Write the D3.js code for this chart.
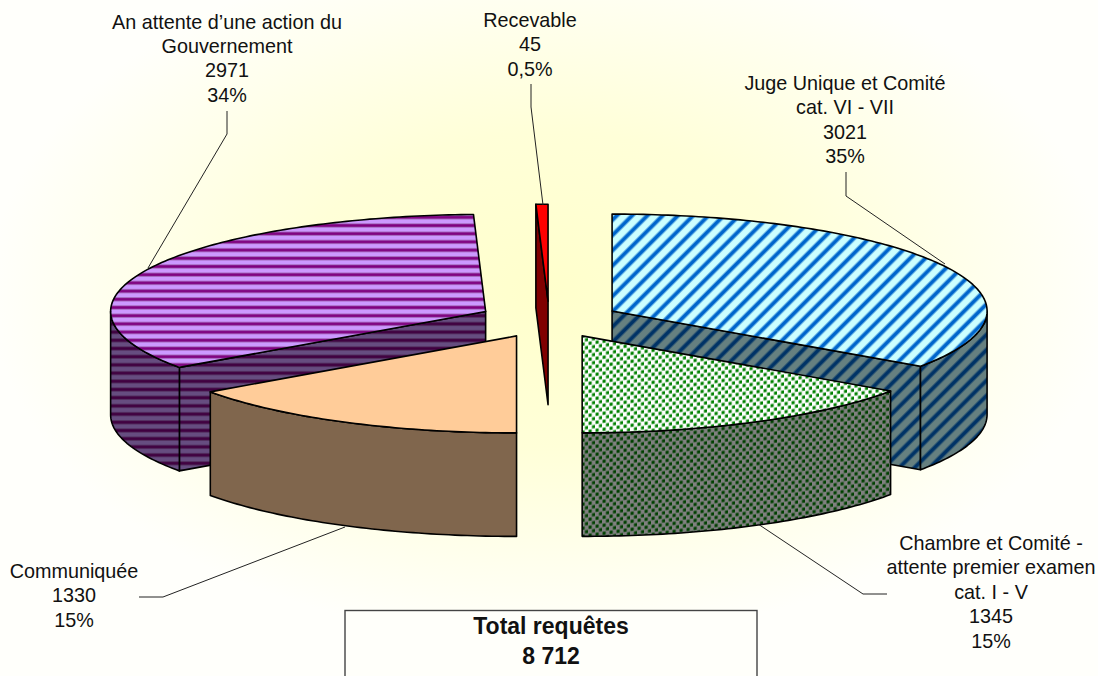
<!DOCTYPE html>
<html><head><meta charset="utf-8">
<style>html,body{margin:0;padding:0;background:#fff;overflow:hidden}svg{display:block}text{font-family:"Liberation Sans",Arial,sans-serif;fill:#111}</style>
<script src="https://cdn.jsdelivr.net/npm/d3@7"></script>
</head><body><script>
const categories=["Juge Unique et Comité\ncat. VI - VII","Chambre et Comité -\nattente premier examen\ncat. I - V","Communiquée","An attente d’une action du\nGouvernement","Recevable"];
const values=[3021,1345,1330,2971,45];            // printed in the labels
const wedgeValues=[3017,1339,1325,2986,45];       // wedge sizes
const percentLabels=["35%","15%","15%","34%","0,5%"];
const totalLabel=["Total requêtes","8 712"];

const W=1098,H=676,cx=549.2,cy=319.6,rx=375,ry=97,depth=103.5,explode=71;
const labelCenters=[[845,90],[991,550],[74,578],[227,28.5],[530,27]];
const leaders=[[[846,172],[846,196],[945,264]],[[887,594],[863,594],[758,524]],[[139,597],[163,597],[345,527]],[[227,111],[227,134],[148,268]],[[531,84],[531,107],[543,205]]];
const svg=d3.select("body").append("svg").attr("width",W).attr("height",H);
const defs=svg.append("defs");
const g=defs.append("radialGradient").attr("id","bg").attr("gradientUnits","userSpaceOnUse")
 .attr("cx",0).attr("cy",0).attr("r",1).attr("gradientTransform",`translate(549,290) scale(560,350)`);
[[0,"#ffffcc"],[.45,"#ffffd8"],[1,"#fffffb"]].forEach(s=>g.append("stop").attr("offset",s[0]).attr("stop-color",s[1]));

function stripes(id,period,angle,base,dark,mid,frac){
 const p=defs.append("pattern").attr("id",id).attr("patternUnits","userSpaceOnUse").attr("width",period).attr("height",period).attr("patternTransform",`rotate(${angle})`);
 p.append("rect").attr("width",period).attr("height",period).attr("fill",base);
 p.append("rect").attr("y",period*(.5-frac/2)-1).attr("width",period).attr("height",period*frac+2).attr("fill",mid);
 p.append("rect").attr("y",period*(.5-frac/2)).attr("width",period).attr("height",period*frac).attr("fill",dark);
}
stripes("blueTop",10.8,-45,"#ccffff","#0066cc","#66b3e6",.28);
stripes("blueSide",10.8,-45,"#668080","#003366","#335973",.28);
stripes("purpleTop",8.2,0,"#cc99ff","#800080","#a66cc0",.3);
stripes("purpleSide",8.2,0,"#664d80","#400040","#533060",.3);
function dots(id,base,dot){
 const p=defs.append("pattern").attr("id",id).attr("patternUnits","userSpaceOnUse").attr("width",7).attr("height",8).attr("patternTransform","skewY(-8)");
 p.append("rect").attr("width",7).attr("height",8).attr("fill",base);
 [[0.5,.5],[4,4.5]].forEach(d=>p.append("rect").attr("x",d[0]).attr("y",d[1]).attr("width",3.2).attr("height",3.2).attr("fill",dot));
}
dots("greenTop","#ffffff","#008000");
dots("greenSide","#808080","#004000");
const tops=["url(#blueTop)","url(#greenTop)","#ffcc99","url(#purpleTop)","#ff0000"];
const sides=["url(#blueSide)","url(#greenSide)","#80664d","url(#purpleSide)","#800000"];

svg.append("rect").attr("width",W).attr("height",H).attr("fill","url(#bg)");

const arcs=d3.pie().sort(null).value(d=>d)(wedgeValues);
const X=d3.scaleLinear().domain([-1,1]).range([-rx,rx]);
const Y=d3.scaleLinear().domain([-1,1]).range([ry,-ry]);
const pt=(a,o,dy=0)=>[o[0]+X(Math.sin(a)),o[1]+Y(Math.cos(a))+dy];
function arcPts(a0,a1,o,dy=0){const n=Math.max(2,Math.ceil((a1-a0)*60)),r=[];for(let i=0;i<=n;i++)r.push(pt(a0+(a1-a0)*i/n,o,dy));return r;}
const line=d3.line();
const stroke=s=>s.attr("stroke","#000").attr("stroke-width",1.6).attr("stroke-linejoin","round");

const order=[4,0,3,1,2]; // painter's order, back to front
const chart=svg.append("g");
order.forEach(i=>{
 const d=arcs[i],mid=(d.startAngle+d.endAngle)/2;
 const o=[cx+explode*Math.sin(mid),cy-explode*(ry/rx)*Math.cos(mid)];
 const a0=d.startAngle,a1=d.endAngle;
 const face=a=>{const p=pt(a,o);return [o,p,[p[0],p[1]+depth],[o[0],o[1]+depth]];};
 if(a0>Math.PI) stroke(chart.append("path").attr("d",line(face(a0))+"Z").attr("fill",sides[i]));
 if(a1<Math.PI-1e-3) stroke(chart.append("path").attr("d",line(face(a1))+"Z").attr("fill",sides[i]));
 const w0=Math.max(a0,Math.PI/2),w1=Math.min(a1,Math.PI*1.5);
 if(w1>w0){
  const pts=arcPts(w0,w1,o).concat(arcPts(w0,w1,o,depth).reverse());
  stroke(chart.append("path").attr("d",line(pts)+"Z").attr("fill",sides[i]));
 }
 const top=[o].concat(arcPts(a0,a1,o));
 stroke(chart.append("path").attr("d",line(top)+"Z").attr("fill",tops[i]));
});

const ll=svg.append("g");
leaders.forEach(p=>ll.append("path").attr("d",line(p)).attr("fill","none").attr("stroke","#222").attr("stroke-width",1));

categories.forEach((c,i)=>{
 const lines=c.split("\n").concat([String(values[i]),percentLabels[i]]);
 const t=svg.append("text").attr("text-anchor","middle").attr("font-size",19.8);
 lines.forEach((l,k)=>t.append("tspan").attr("x",labelCenters[i][0]).attr("y",labelCenters[i][1]+k*24.4).text(l));
});

svg.append("rect").attr("x",345).attr("y",610.5).attr("width",412).attr("height",90).attr("fill","#fffffa").attr("stroke","#444").attr("stroke-width",1.4);
totalLabel.forEach((l,k)=>svg.append("text").attr("x",551).attr("y",634+k*29.5).attr("text-anchor","middle").attr("font-size",23).attr("font-weight","bold").text(l));
</script></body></html>
